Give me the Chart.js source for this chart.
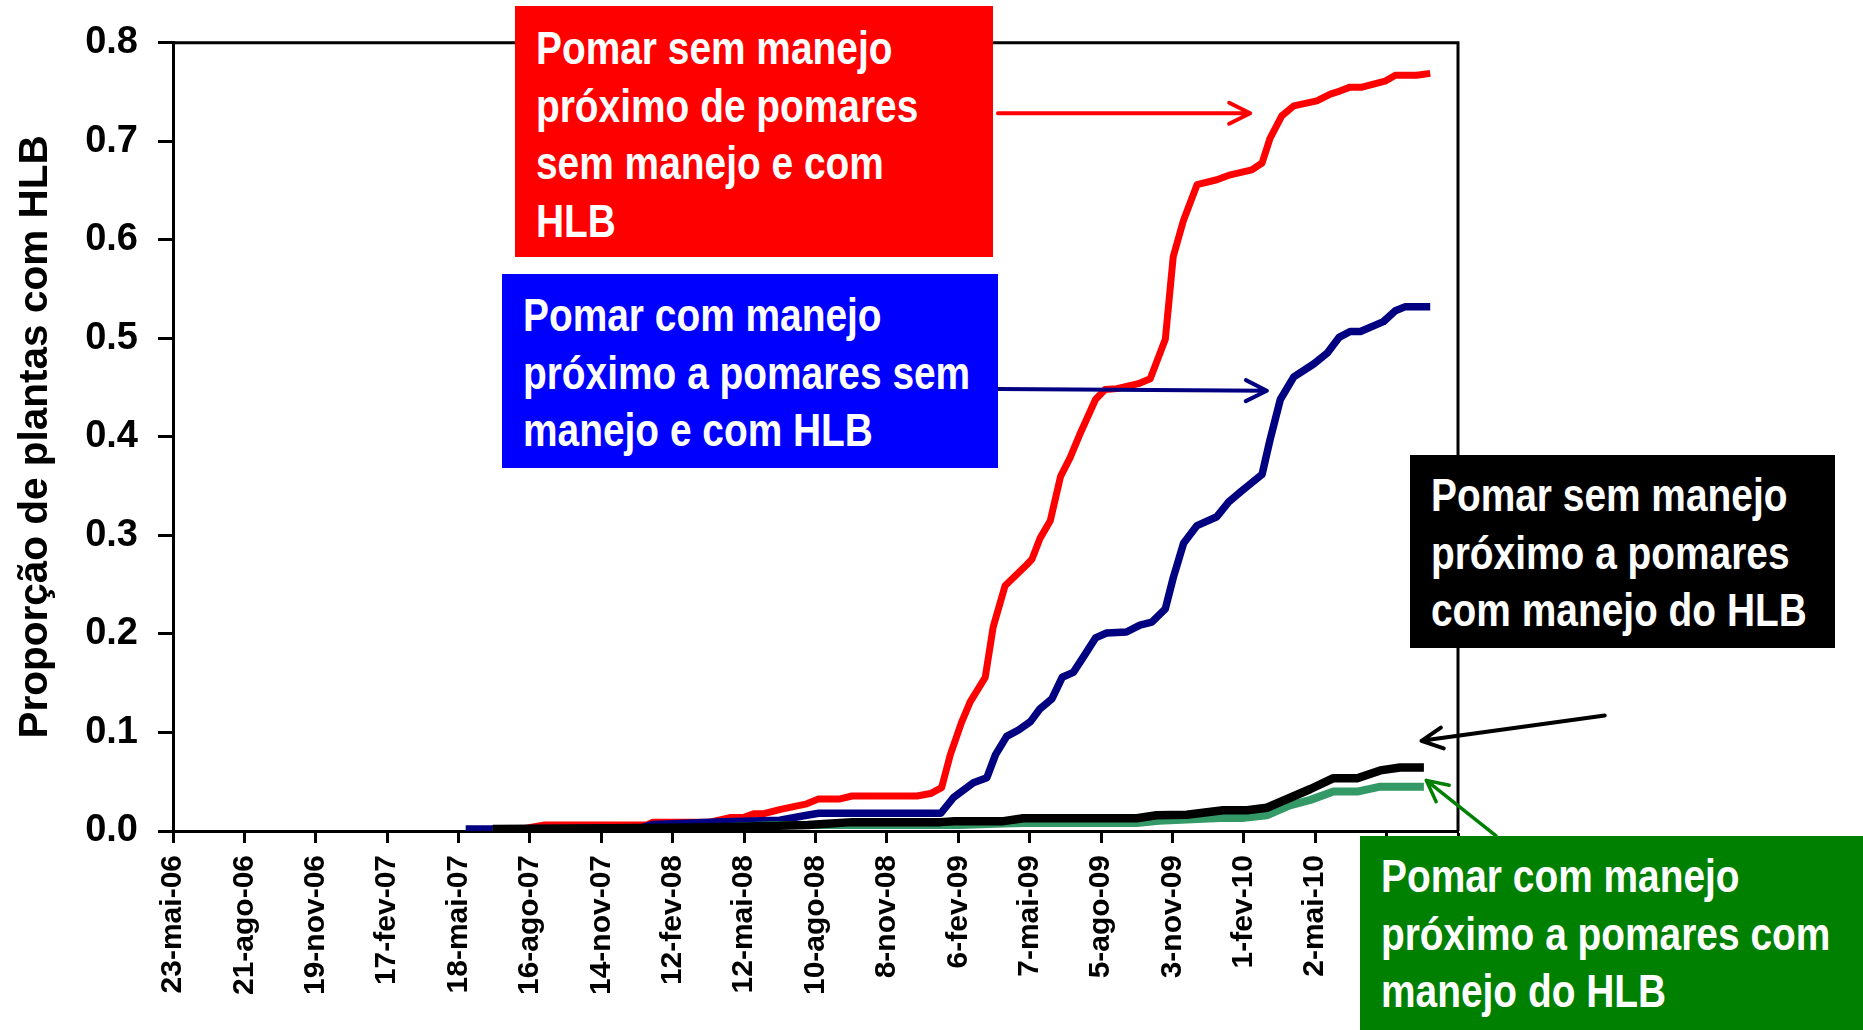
<!DOCTYPE html>
<html lang="pt-BR">
<head>
<meta charset="UTF-8">
<title>Proporção de plantas com HLB</title>
<script src="https://cdn.jsdelivr.net/npm/chart.js"></script>
<style>
    html, body { margin: 0; padding: 0; background: #fff; overflow: hidden; }
    #wrap { position: relative; width: 1863px; height: 1030px; overflow: hidden; }
    #grafico { position: absolute; left: 0; top: 0; }
    .caixa {
        position: absolute;
        box-sizing: border-box;
        color: #fff;
        font-family: 'Liberation Sans', Arial, sans-serif;
        font-weight: bold;
        font-size: 46px;
        line-height: 57.5px;
        padding-left: 21px;
        white-space: nowrap;
    }
    .caixa span { display: block; transform: scaleX(0.845); transform-origin: 0 0; }
</style>
</head>
<body>
<div id="wrap">
    <canvas id="grafico" width="1863" height="1030"></canvas>

    <div class="caixa" style="left:515px; top:6px; width:478px; height:251px; background:#ff0000; padding-top:14px;">
        <span>Pomar sem manejo</span>
        <span>próximo de pomares</span>
        <span>sem manejo e com</span>
        <span>HLB</span>
    </div>
    <div class="caixa" style="left:502px; top:274px; width:496px; height:194px; background:#0000ff; padding-top:13px;">
        <span>Pomar com manejo</span>
        <span>próximo a pomares sem</span>
        <span>manejo e com HLB</span>
    </div>
    <div class="caixa" style="left:1410px; top:455px; width:425px; height:193px; background:#000000; padding-top:12px;">
        <span>Pomar sem manejo</span>
        <span>próximo a pomares</span>
        <span>com manejo do HLB</span>
    </div>
    <div class="caixa" style="left:1360px; top:836px; width:503px; height:194px; background:#008000; padding-top:12px;">
        <span>Pomar com manejo</span>
        <span>próximo a pomares com</span>
        <span>manejo do HLB</span>
    </div>
</div>

<script>
    // eixo x: dias a partir de 23-mai-06, uma marca a cada 90 dias
    const rotulosX = ['23-mai-06', '21-ago-06', '19-nov-06', '17-fev-07', '18-mai-07', '16-ago-07',
        '14-nov-07', '12-fev-08', '12-mai-08', '10-ago-08', '8-nov-08', '6-fev-09', '7-mai-09',
        '5-ago-09', '3-nov-09', '1-fev-10', '2-mai-10', '31-jul-10', '29-out-10'];

    // pomar sem manejo próximo de pomares sem manejo e com HLB
    const diasVermelho = [403, 440, 467, 597, 605, 677, 702, 719, 732, 745, 766, 799, 814, 841, 856, 938,
        955, 969, 980, 994, 1005, 1024, 1034, 1049, 1076, 1083, 1093, 1106, 1119, 1131, 1144, 1163,
        1175, 1190, 1217, 1232, 1251, 1261, 1274, 1291, 1316, 1333, 1360, 1373, 1383, 1398, 1413,
        1442, 1459, 1471, 1484, 1499, 1528, 1541, 1568, 1585];
    const vermelho = [0.001, 0.002, 0.006, 0.006, 0.009, 0.009, 0.0136, 0.0136, 0.0176, 0.0176, 0.022,
        0.0276, 0.0326, 0.0326, 0.0355, 0.0355, 0.038, 0.044, 0.0775, 0.110, 0.131, 0.156, 0.207,
        0.249, 0.270, 0.276, 0.297, 0.315, 0.360, 0.379, 0.404, 0.438, 0.448, 0.449, 0.454, 0.459,
        0.499, 0.583, 0.620, 0.656, 0.661, 0.666, 0.671, 0.678, 0.703, 0.726, 0.736, 0.741, 0.748,
        0.751, 0.755, 0.755, 0.761, 0.767, 0.767, 0.769];

    // pomar com manejo próximo a pomares sem manejo e com HLB
    const diasAzul = [369, 403, 589, 605, 694, 765, 799, 814, 968, 984, 1009, 1026, 1037, 1051, 1066,
        1081, 1093, 1108, 1121, 1135, 1148, 1163, 1177, 1202, 1219, 1234, 1251, 1261, 1274, 1291,
        1316, 1331, 1347, 1373, 1383, 1396, 1413, 1438, 1455, 1470, 1484, 1497, 1526, 1541, 1553, 1585];
    const azul = [0.002, 0.002, 0.003, 0.0067, 0.0093, 0.011, 0.016, 0.018, 0.018, 0.034, 0.049, 0.054,
        0.0775, 0.096, 0.1025, 0.111, 0.124, 0.134, 0.156, 0.161, 0.177, 0.196, 0.201, 0.202, 0.209,
        0.212, 0.2255, 0.257, 0.292, 0.310, 0.319, 0.334, 0.345, 0.362, 0.397, 0.438, 0.461, 0.474,
        0.485, 0.501, 0.507, 0.507, 0.517, 0.528, 0.532, 0.532];

    // pomar sem manejo próximo a pomares com manejo do HLB
    const diasPreto = [403, 597, 700, 800, 856, 968, 985, 1047, 1072, 1215, 1240, 1278, 1324, 1354,
        1379, 1434, 1463, 1493, 1522, 1547, 1577];
    const preto = [0.002, 0.003, 0.004, 0.006, 0.009, 0.009, 0.010, 0.010, 0.013, 0.013, 0.016, 0.0165,
        0.021, 0.021, 0.0236, 0.0426, 0.0536, 0.0536, 0.0615, 0.0645, 0.0645];

    // pomar com manejo próximo a pomares com manejo do HLB
    const diasVerde = [403, 600, 700, 760, 992, 1047, 1072, 1215, 1243, 1320, 1350, 1379, 1408, 1434,
        1463, 1493, 1522, 1577];
    const verde = [0.0, 0.002, 0.004, 0.006, 0.006, 0.0077, 0.008, 0.008, 0.0103, 0.0133, 0.0133, 0.016,
        0.026, 0.0316, 0.040, 0.040, 0.045, 0.045];

    // setas das caixas até as curvas (em dias / proporção)
    const setas = [
        { cor: '#ff0000', de: [1040, 0.7285], para: [1358, 0.7285], largura: 4 },
        { cor: '#000080', de: [1040, 0.4486], para: [1379, 0.4468], largura: 4 },
        { cor: '#000000', de: [1805, 0.1173], para: [1574, 0.0915], largura: 4 },
        { cor: '#008000', de: [1668, -0.005], para: [1580, 0.0514], largura: 3.5 }
    ];

    const fonte = "'Liberation Sans', Arial, sans-serif";

    function pontos(dias, valores) {
        return dias.map((d, i) => ({ x: d, y: valores[i] }));
    }

    function serie(dias, valores, cor, largura, ordem) {
        return {
            data: pontos(dias, valores),
            borderColor: cor,
            borderWidth: largura,
            borderJoinStyle: 'round',
            pointRadius: 0,
            fill: false,
            tension: 0,
            order: ordem
        };
    }

    // moldura de cima e da direita + setas
    const extras = {
        id: 'extras',
        afterDatasetsDraw(chart) {
            const { ctx, chartArea, scales } = chart;
            ctx.save();
            ctx.strokeStyle = '#000';
            ctx.lineWidth = 3;
            ctx.beginPath();
            ctx.moveTo(chartArea.left, chartArea.top);
            ctx.lineTo(chartArea.right, chartArea.top);
            ctx.lineTo(chartArea.right, chartArea.bottom);
            ctx.stroke();

            setas.forEach(s => {
                const x1 = scales.x.getPixelForValue(s.de[0]);
                const y1 = scales.y.getPixelForValue(s.de[1]);
                const x2 = scales.x.getPixelForValue(s.para[0]);
                const y2 = scales.y.getPixelForValue(s.para[1]);
                const ang = Math.atan2(y2 - y1, x2 - x1);
                ctx.strokeStyle = s.cor;
                ctx.lineWidth = s.largura;
                ctx.lineCap = 'round';
                ctx.lineJoin = 'round';
                ctx.beginPath();
                ctx.moveTo(x1, y1);
                ctx.lineTo(x2, y2);
                ctx.moveTo(x2 - 21 * Math.cos(ang) + 10.5 * Math.sin(ang), y2 - 21 * Math.sin(ang) - 10.5 * Math.cos(ang));
                ctx.lineTo(x2, y2);
                ctx.lineTo(x2 - 21 * Math.cos(ang) - 10.5 * Math.sin(ang), y2 - 21 * Math.sin(ang) + 10.5 * Math.cos(ang));
                ctx.stroke();
            });
            ctx.restore();
        }
    };

    const ctx = document.getElementById('grafico').getContext('2d');

    new Chart(ctx, {
        type: 'line',
        data: {
            datasets: [
                serie(diasPreto, preto, '#000000', 8.5, 0),
                serie(diasVerde, verde, '#339966', 8, 1),
                serie(diasAzul, azul, '#000080', 7.5, 2),
                serie(diasVermelho, vermelho, '#ff0000', 7, 3)
            ]
        },
        options: {
            responsive: false,
            animation: false,
            layout: { padding: { left: 0, top: 29, right: 405, bottom: 0 } },
            plugins: {
                legend: { display: false },
                tooltip: { enabled: false }
            },
            scales: {
                x: {
                    type: 'linear',
                    min: 0,
                    max: 1620,
                    afterFit: s => { s.height = 199; },
                    ticks: {
                        stepSize: 90,
                        autoSkip: false,
                        minRotation: 90,
                        maxRotation: 90,
                        padding: 12,
                        color: '#000',
                        font: { family: fonte, size: 30, weight: 'bold' },
                        callback: v => rotulosX[Math.round(v / 90)]
                    },
                    grid: {
                        drawOnChartArea: false,
                        tickLength: 12,
                        tickWidth: 3,
                        tickColor: '#000'
                    },
                    border: { display: true, color: '#000', width: 3 }
                },
                y: {
                    min: 0,
                    max: 0.8,
                    afterFit: s => { s.width = 173; },
                    ticks: {
                        stepSize: 0.1,
                        padding: 20,
                        color: '#000',
                        font: { family: fonte, size: 38, weight: 'bold' },
                        callback: v => v.toFixed(1)
                    },
                    grid: {
                        drawOnChartArea: false,
                        tickLength: 15,
                        tickWidth: 3,
                        tickColor: '#000'
                    },
                    border: { display: true, color: '#000', width: 3 },
                    title: {
                        display: true,
                        text: 'Proporção de plantas com HLB',
                        color: '#000',
                        font: { family: fonte, size: 40.5, weight: 'bold' },
                        padding: { top: 12, bottom: 0 }
                    }
                }
            }
        },
        plugins: [extras]
    });
</script>
</body>
</html>
